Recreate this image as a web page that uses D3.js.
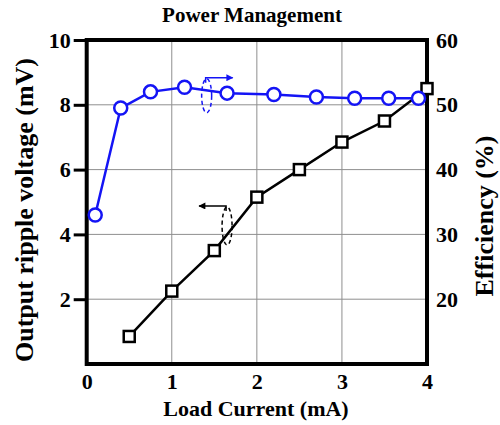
<!DOCTYPE html>
<html>
<head>
<meta charset="utf-8">
<script src="https://cdn.jsdelivr.net/npm/d3@7"></script>
<style>
  html, body { margin: 0; padding: 0; background: #fff; }
  svg text { font-family: "Liberation Serif", "Times New Roman", serif; font-weight: bold; fill: #000; }
</style>
</head>
<body>
<svg id="chart" width="500" height="425"></svg>
<script>
// Load current (mA) and output ripple voltage (mV)
const rippleCurrent = [0.5, 1, 1.5, 2, 2.5, 3, 3.5, 4];
const rippleVoltage = [0.85, 2.25, 3.5, 5.15, 6.0, 6.85, 7.5, 8.5];

// Load current (mA) and efficiency (%)
const effCurrent = [0.1, 0.4, 0.75, 1.15, 1.65, 2.2, 2.7, 3.15, 3.55, 3.9];
const efficiency = [33, 49.5, 52, 52.7, 51.8, 51.6, 51.2, 51, 51, 51];

// Axis ticks
const xTicks = [0, 1, 2, 3, 4];
const leftTicks = [2, 4, 6, 8, 10];
const rightTicks = [20, 30, 40, 50, 60];

const svg = d3.select("#chart");
const plot = { left: 86.7, right: 427, top: 40, bottom: 364 };

const x = d3.scaleLinear().domain([0, 4]).range([plot.left, plot.right]);
const yL = d3.scaleLinear().domain([0, 10]).range([plot.bottom, plot.top]);
const yR = d3.scaleLinear().domain([10, 60]).range([plot.bottom, plot.top]);

const BLUE = "#1414f5";

// Grid
const grid = svg.append("g").attr("stroke", "#8f8f8f").attr("stroke-width", 1);
grid.selectAll("line.v").data(xTicks.slice(1, -1)).join("line")
  .attr("x1", d => x(d)).attr("x2", d => x(d))
  .attr("y1", plot.top).attr("y2", plot.bottom);
grid.selectAll("line.h").data(leftTicks.slice(0, -1)).join("line")
  .attr("x1", plot.left).attr("x2", plot.right)
  .attr("y1", d => yL(d)).attr("y2", d => yL(d));

// Axes
const fs = "22px";
const xAxis = svg.append("g").attr("transform", `translate(0,${plot.bottom})`)
  .call(d3.axisBottom(x).tickValues(xTicks).tickFormat(d3.format("d")).tickSize(0).tickPadding(9));
const lAxis = svg.append("g").attr("transform", `translate(${plot.left},0)`)
  .call(d3.axisLeft(yL).tickValues(leftTicks).tickFormat(d3.format("d")).tickSize(13).tickPadding(3));
const rAxis = svg.append("g").attr("transform", `translate(${plot.right},0)`)
  .call(d3.axisRight(yR).tickValues(rightTicks).tickFormat(d3.format("d")).tickSize(0).tickPadding(9));
[xAxis, lAxis, rAxis].forEach(g => {
  g.select(".domain").remove();
  g.selectAll("text").attr("font-size", fs).attr("font-family", "Liberation Serif").attr("font-weight", "bold").attr("fill", "#000");
  g.selectAll(".tick line").attr("stroke", "#000").attr("stroke-width", 3);
});

// Frame
svg.append("rect")
  .attr("x", plot.left).attr("y", plot.top)
  .attr("width", plot.right - plot.left).attr("height", plot.bottom - plot.top)
  .attr("fill", "none").attr("stroke", "#000").attr("stroke-width", 4);

// Ripple voltage series
const rippleData = rippleCurrent.map((c, i) => [c, rippleVoltage[i]]);
svg.append("path").datum(rippleData)
  .attr("fill", "none").attr("stroke", "#000").attr("stroke-width", 2.5)
  .attr("d", d3.line().x(d => x(d[0])).y(d => yL(d[1])));
svg.append("g").selectAll("rect").data(rippleData).join("rect")
  .attr("x", d => x(d[0]) - 5.5).attr("y", d => yL(d[1]) - 5.5)
  .attr("width", 11).attr("height", 11)
  .attr("fill", "#fff").attr("stroke", "#000").attr("stroke-width", 2.5);

// Efficiency series
const effData = effCurrent.map((c, i) => [c, efficiency[i]]);
svg.append("path").datum(effData)
  .attr("fill", "none").attr("stroke", BLUE).attr("stroke-width", 2.5)
  .attr("d", d3.line().x(d => x(d[0])).y(d => yR(d[1])));
svg.append("g").selectAll("circle").data(effData).join("circle")
  .attr("cx", d => x(d[0])).attr("cy", d => yR(d[1])).attr("r", 6.5)
  .attr("fill", "#fff").attr("stroke", BLUE).attr("stroke-width", 2.5);

// Axis markers: dashed ellipse around each curve with arrow toward its axis
const defs = svg.append("defs");
function arrowHead(id, color) {
  defs.append("marker").attr("id", id)
    .attr("viewBox", "0 0 10 10").attr("refX", 9).attr("refY", 5)
    .attr("markerWidth", 9).attr("markerHeight", 7).attr("markerUnits", "userSpaceOnUse")
    .attr("orient", "auto")
    .append("path").attr("d", "M0,0 L10,5 L0,10 Z").attr("fill", color);
}
arrowHead("arrowBlue", BLUE);
arrowHead("arrowBlack", "#000");

function axisMarker(cx, cy, ry, dir, color, markerId) {
  svg.append("ellipse").attr("cx", cx).attr("cy", cy).attr("rx", 5).attr("ry", ry)
    .attr("fill", "none").attr("stroke", color).attr("stroke-width", 1.5)
    .attr("stroke-dasharray", "4,3");
  const top = cy - ry;
  svg.append("path")
    .attr("d", `M${cx - 1},${top + 4} L${cx - 1},${top - 1} L${cx - 1 + dir * 27},${top - 1}`)
    .attr("fill", "none").attr("stroke", color).attr("stroke-width", 1.5)
    .attr("marker-end", `url(#${markerId})`);
}
axisMarker(x(1.41), yR(51.4), 17, 1, BLUE, "arrowBlue");
axisMarker(x(1.65), yL(4.26), 19, -1, "#000", "arrowBlack");

// Titles
svg.append("text").attr("x", 252).attr("y", 22).attr("text-anchor", "middle")
  .attr("font-size", "21px").text("Power Management");
svg.append("text").attr("x", 256).attr("y", 416).attr("text-anchor", "middle")
  .attr("font-size", "22px").text("Load Current (mA)");
svg.append("text").attr("transform", "translate(33,210) rotate(-90)").attr("text-anchor", "middle")
  .attr("font-size", "26px").text("Output ripple voltage (mV)");
svg.append("text").attr("transform", "translate(493,216) rotate(-90)").attr("text-anchor", "middle")
  .attr("font-size", "26px").text("Efficiency (%)");
</script>
</body>
</html>
